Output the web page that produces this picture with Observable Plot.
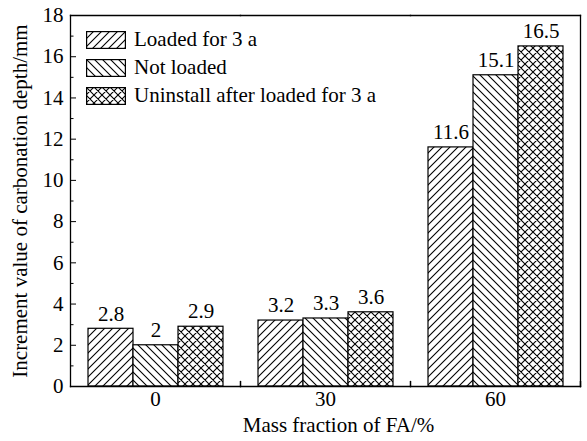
<!DOCTYPE html>
<html><head><meta charset="utf-8">
<script src="https://cdn.jsdelivr.net/npm/d3@7"></script>
<script src="https://cdn.jsdelivr.net/npm/@observablehq/plot@0.6"></script>
<style>
body{margin:0;background:#fff;}
#wrap{position:relative;width:587px;height:441px;}
.legend{position:absolute;left:86px;top:31px;font-family:"Liberation Serif","Times New Roman",serif;font-size:21px;color:#000;}
.row{display:flex;align-items:center;height:17px;margin-bottom:11px;white-space:nowrap;}
.row svg{margin-right:8px;flex:none;}
</style></head><body>
<svg width="0" height="0" style="position:absolute">
<defs>
<pattern id="hatchF" patternUnits="userSpaceOnUse" width="8" height="8"><rect width="8" height="8" fill="white"/><path d="M-2,2 L2,-2 M0,8 L8,0 M6,10 L10,6" stroke="black" stroke-width="1.1"/></pattern>
<pattern id="hatchB" patternUnits="userSpaceOnUse" width="8" height="8"><rect width="8" height="8" fill="white"/><path d="M-2,6 L2,10 M0,0 L8,8 M6,-2 L10,2" stroke="black" stroke-width="1.1"/></pattern>
<pattern id="hatchX" patternUnits="userSpaceOnUse" width="8" height="8"><rect width="8" height="8" fill="white"/><path d="M-2,2 L2,-2 M0,8 L8,0 M6,10 L10,6 M-2,6 L2,10 M0,0 L8,8 M6,-2 L10,2" stroke="black" stroke-width="1.1"/></pattern>
</defs></svg>
<div id="wrap"></div>
<script>
const categories = ["0", "30", "60"];
const series = ["Loaded for 3 a", "Not loaded", "Uninstall after loaded for 3 a"];
const loaded = [2.8, 3.2, 11.6];
const notLoaded = [2.0, 3.3, 15.1];
const uninstall = [2.9, 3.6, 16.5];
const yTicks = [0, 2, 4, 6, 8, 10, 12, 14, 16, 18];
const yMinor = [1, 3, 5, 7, 9, 11, 13, 15, 17];
const patterns = ["url(#hatchF)", "url(#hatchB)", "url(#hatchX)"];
const xTitle = "Mass fraction of FA/%";
const yTitle = "Increment value of carbonation depth/mm";

const valuesBySeries = [loaded, notLoaded, uninstall];
const rows = categories.flatMap((c, i) => series.map((s, j) => ({cat: c, series: s, value: valuesBySeries[j][i]})));

const tickShape = {draw(context, l) { context.moveTo(0, 0); context.lineTo(0, -l); }};
const font = "'Liberation Serif', 'Times New Roman', serif";

const chart = Plot.plot({
  width: 587, height: 441,
  marginLeft: 69, marginRight: 6, marginTop: 15, marginBottom: 55,
  style: {fontFamily: font, fontSize: "21px", color: "black", background: "white", overflow: "visible"},
  fx: {domain: categories, padding: 0},
  x: {domain: series, paddingInner: 0, paddingOuter: 0.375, axis: null},
  y: {domain: [0, 18]},
  color: {domain: series, range: patterns},
  marks: [
    Plot.barY(rows, {fx: "cat", x: "series", y: "value", fill: "series", stroke: "black", strokeWidth: 1.2}),
    Plot.text(rows, {fx: "cat", x: "series", y: "value", text: d => String(d.value), dy: -15, fontSize: 21, fill: "black"}),
    Plot.frame({anchor: "top", stroke: "black", strokeWidth: 1.3}),
    Plot.frame({anchor: "bottom", stroke: "black", strokeWidth: 1.3}),
    Plot.frame({anchor: "left", facetAnchor: "left", stroke: "black", strokeWidth: 1.3}),
    Plot.frame({anchor: "right", facetAnchor: "right", stroke: "black", strokeWidth: 1.3}),
    Plot.axisY({ticks: yTicks, tickSize: 0, tickPadding: 7, fontSize: 21, label: yTitle, labelAnchor: "center", labelArrow: "none", labelOffset: 58}),
    Plot.axisY({ticks: yTicks, tickSize: -6, text: null, label: null}),
    Plot.axisY({ticks: yMinor, tickSize: -3.5, text: null, label: null}),
    Plot.axisFx({anchor: "bottom", tickSize: 0, tickPadding: 5, fontSize: 21, label: null}),
    Plot.text([xTitle], {fx: ["30"], text: d => d, frameAnchor: "bottom", dy: 39, dx: 13, lineAnchor: "middle", fontSize: 21, fill: "black"}),
    Plot.vector([0], {frameAnchor: "bottom-right", length: 5, anchor: "start", shape: tickShape, stroke: "black"})
  ]
});

const wrap = document.getElementById("wrap");
wrap.appendChild(chart);
const legend = document.createElement("div");
legend.className = "legend";
series.forEach((s, i) => {
  const row = document.createElement("div");
  row.className = "row";
  row.innerHTML = `<svg width="40" height="18"><rect x="0.6" y="0.6" width="38.8" height="16.8" fill="${patterns[i]}" stroke="black" stroke-width="1.2"/></svg><span></span>`;
  row.querySelector("span").textContent = s;
  legend.appendChild(row);
});
wrap.appendChild(legend);
</script>
</body></html>
